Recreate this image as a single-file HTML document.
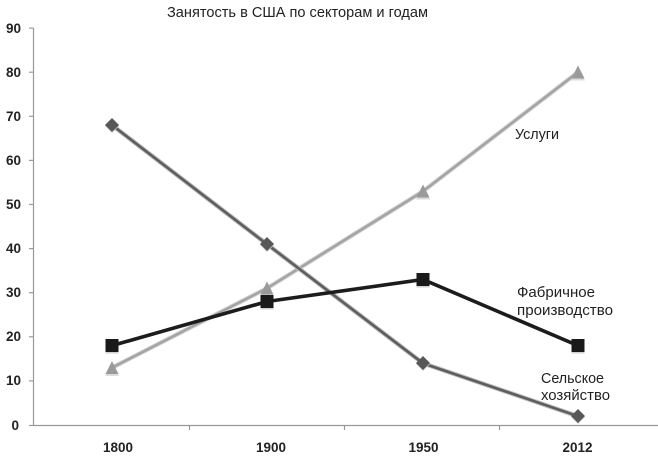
<!DOCTYPE html>
<html><head><meta charset="utf-8"><style>
html,body{margin:0;padding:0;background:#fff;}
svg{display:block;}
text{font-family:"Liberation Sans","DejaVu Sans",sans-serif;}
</style></head><body>
<svg width="658" height="457" viewBox="0 0 658 457" xmlns="http://www.w3.org/2000/svg">
<rect width="658" height="457" fill="#fff"/>
<!-- title -->
<text x="167" y="17" font-size="14.5" fill="#222" textLength="261" lengthAdjust="spacingAndGlyphs">Занятость в США по секторам и годам</text>
<!-- axes -->
<g stroke="#999" stroke-width="1.2" fill="none">
<line x1="33.5" y1="28" x2="33.5" y2="425.5"/>
<line x1="33" y1="425.5" x2="658" y2="425.5"/>
<line x1="29" y1="28.1" x2="33.5" y2="28.1"/>
<line x1="29" y1="72.2" x2="33.5" y2="72.2"/>
<line x1="29" y1="116.3" x2="33.5" y2="116.3"/>
<line x1="29" y1="160.4" x2="33.5" y2="160.4"/>
<line x1="29" y1="204.5" x2="33.5" y2="204.5"/>
<line x1="29" y1="248.6" x2="33.5" y2="248.6"/>
<line x1="29" y1="292.7" x2="33.5" y2="292.7"/>
<line x1="29" y1="336.8" x2="33.5" y2="336.8"/>
<line x1="29" y1="380.9" x2="33.5" y2="380.9"/>
<line x1="29" y1="425.5" x2="33.5" y2="425.5"/>
<line x1="189.5" y1="425" x2="189.5" y2="430"/>
<line x1="344.5" y1="425" x2="344.5" y2="430"/>
<line x1="499.5" y1="425" x2="499.5" y2="430"/>
</g>
<!-- y labels -->
<g font-size="13.5" font-weight="bold" fill="#222" text-anchor="end">
<text x="21" y="33">90</text>
<text x="21" y="77">80</text>
<text x="21" y="121">70</text>
<text x="21" y="165">60</text>
<text x="21" y="209">50</text>
<text x="21" y="253">40</text>
<text x="21" y="297">30</text>
<text x="21" y="341">20</text>
<text x="21" y="385">10</text>
<text x="19" y="430">0</text>
</g>
<!-- x labels -->
<g font-size="14" font-weight="bold" fill="#222" text-anchor="middle">
<text x="118" y="452" textLength="30" lengthAdjust="spacingAndGlyphs">1800</text>
<text x="271" y="452" textLength="30" lengthAdjust="spacingAndGlyphs">1900</text>
<text x="423.5" y="452" textLength="30" lengthAdjust="spacingAndGlyphs">1950</text>
<text x="577.5" y="452" textLength="30" lengthAdjust="spacingAndGlyphs">2012</text>
</g>
<!-- services line -->
<polyline points="112,367.7 267,288.3 423,191.3 578,72.2" fill="none" stroke="#d6d6d6" stroke-width="4.5"/>
<polyline points="112,367.7 267,288.3 423,191.3 578,72.2" fill="none" stroke="#a4a4a4" stroke-width="2.6"/>
<!-- agriculture line -->
<polyline points="112,125.1 267,244.2 423,363.3 578,416.2" fill="none" stroke="#bdbdbd" stroke-width="4.5"/>
<polyline points="112,125.1 267,244.2 423,363.3 578,416.2" fill="none" stroke="#5e5e5e" stroke-width="2.6"/>
<!-- manufacturing line -->
<polyline points="112,345.6 267,301.5 423,279.5 578,345.6" fill="none" stroke="#1c1c1c" stroke-width="3.6"/>
<!-- services triangles -->
<g fill="#dcdcdc">
<polygon points="112,363 105,376 119,376"/>
<polygon points="267,283.5 260,296.5 274,296.5"/>
<polygon points="423,186.5 416,199.5 430,199.5"/>
<polygon points="578,67.5 571,80.5 585,80.5"/>
</g>
<g fill="#9a9a9a">
<polygon points="112,361 105.5,374 118.5,374"/>
<polygon points="267,281.5 260.5,294.5 273.5,294.5"/>
<polygon points="423,184.5 416.5,197.5 429.5,197.5"/>
<polygon points="578,65.5 571.5,78.5 584.5,78.5"/>
</g>
<!-- agriculture diamonds -->
<g fill="#cfcfcf">
<polygon points="112,119 119,126 112,133 105,126"/>
<polygon points="267,238 274,245 267,252 260,245"/>
<polygon points="423,357 430,364 423,371 416,364"/>
<polygon points="578,410 585,417 578,424 571,417"/>
</g>
<g fill="#585858">
<polygon points="112,118 119,125 112,132 105,125"/>
<polygon points="267,237 274,244 267,251 260,244"/>
<polygon points="423,356 430,363 423,370 416,363"/>
<polygon points="578,409 585,416 578,423 571,416"/>
</g>
<!-- manufacturing squares -->
<g fill="#d2d2d2">
<rect x="105.5" y="340.5" width="13" height="13"/>
<rect x="260.5" y="296.5" width="13" height="13"/>
<rect x="416.5" y="274.5" width="13" height="13"/>
<rect x="571.5" y="340.5" width="13" height="13"/>
</g>
<g fill="#1a1a1a">
<rect x="105.5" y="339" width="13" height="13"/>
<rect x="260.5" y="295" width="13" height="13"/>
<rect x="416.5" y="273" width="13" height="13"/>
<rect x="571.5" y="339" width="13" height="13"/>
</g>
<!-- series labels -->
<g font-size="15" fill="#222">
<text x="515" y="139" textLength="44" lengthAdjust="spacingAndGlyphs">Услуги</text>
<text x="517" y="297" textLength="78" lengthAdjust="spacingAndGlyphs">Фабричное</text>
<text x="517" y="315" textLength="96" lengthAdjust="spacingAndGlyphs">производство</text>
<text x="541" y="383" textLength="63" lengthAdjust="spacingAndGlyphs">Сельское</text>
<text x="541" y="400" textLength="69" lengthAdjust="spacingAndGlyphs">хозяйство</text>
</g>
</svg>
</body></html>
